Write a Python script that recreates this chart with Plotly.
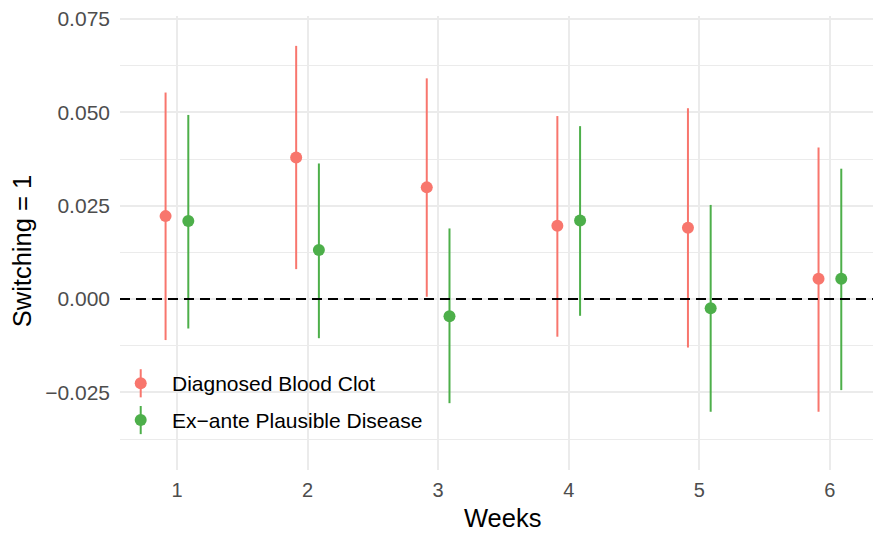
import plotly.graph_objects as go

weeks = [1, 2, 3, 4, 5, 6]
groups = ["Diagnosed Blood Clot", "Ex\u2212ante Plausible Disease"]
colors = ["#F8766D", "#4DAF4A"]

clot_est = [0.0222, 0.0379, 0.0299, 0.0196, 0.0191, 0.0054]
clot_lo = [-0.0110, 0.0080, 0.0006, -0.0101, -0.0130, -0.0302]
clot_hi = [0.0553, 0.0678, 0.0591, 0.0490, 0.0511, 0.0406]

dis_est = [0.0209, 0.0131, -0.0046, 0.0210, -0.0025, 0.0054]
dis_lo = [-0.0079, -0.0105, -0.0279, -0.0045, -0.0302, -0.0244]
dis_hi = [0.0493, 0.0363, 0.0189, 0.0463, 0.0252, 0.0349]

y_ticks = [-0.025, 0.0, 0.025, 0.05, 0.075]
y_tick_labels = ["\u22120.025", "0.000", "0.025", "0.050", "0.075"]

x_title = "Weeks"
y_title = "Switching = 1"

dodge = 0.087
FONT = "Liberation Sans, Arial, sans-serif"

fig = go.Figure()
series = [(clot_est, clot_lo, clot_hi), (dis_est, dis_lo, dis_hi)]
for i, (est, lo, hi) in enumerate(series):
    off = -dodge if i == 0 else dodge
    xs = [w + off for w in weeks]
    fig.add_trace(go.Scatter(
        x=xs, y=est, mode="markers", name=groups[i], showlegend=False,
        marker=dict(color=colors[i], size=12, line=dict(width=0)),
        error_y=dict(type="data", symmetric=False,
                     array=[h - e for h, e in zip(hi, est)],
                     arrayminus=[e - l for e, l in zip(est, lo)],
                     color=colors[i], thickness=2, width=0),
    ))

# zero reference line
fig.add_shape(type="line", xref="paper", yref="y", x0=0, x1=1, y0=0, y1=0,
              line=dict(color="black", width=2, dash="10px,6px"), layer="above")

# legend background (inside panel, semi-transparent white)
fig.add_shape(type="rect", xref="x domain", yref="y domain", x0=0, x1=0.425,
              y0=0.04, y1=0.258, fillcolor="rgba(255,255,255,0.6)",
              line=dict(width=0), layer="below")

# custom legend glyphs on an overlay axis
leg_y = [0.191, 0.110]
for i in range(2):
    fig.add_trace(go.Scatter(
        x=[0.0275], y=[leg_y[i]], xaxis="x2", yaxis="y2", mode="markers",
        showlegend=False, hoverinfo="skip",
        marker=dict(color=colors[i], size=12),
        error_y=dict(type="constant", value=0.031, color=colors[i],
                     thickness=2, width=0),
    ))
    fig.add_annotation(x=0.067, y=leg_y[i], xref="paper", yref="paper",
                       text=groups[i], showarrow=False, xanchor="left",
                       yanchor="middle",
                       font=dict(family=FONT, size=21, color="black"))

# axis titles (placed as in the reference)
fig.add_annotation(x=0.5086, y=-0.105, xref="paper", yref="paper",
                   text=x_title, showarrow=False, xanchor="center",
                   yanchor="middle",
                   font=dict(family=FONT, size=25.5, color="black"))
fig.add_annotation(x=-0.13, y=0.482, xref="paper", yref="paper",
                   text=y_title, showarrow=False, textangle=-90,
                   xanchor="center", yanchor="middle",
                   font=dict(family=FONT, size=25.5, color="black"))

fig.update_layout(
    width=878, height=533,
    margin=dict(l=120, r=5, t=16, b=63, autoexpand=False),
    paper_bgcolor="white", plot_bgcolor="white",
    font=dict(family=FONT, color="#4D4D4D"),
    showlegend=False,
    xaxis=dict(range=[0.564, 6.33], tickvals=weeks,
               ticktext=[str(w) for w in weeks], automargin=False,
               showgrid=True, gridcolor="#EBEBEB", gridwidth=1.6,
               zeroline=False, showline=False, ticks="",
               ticklabelstandoff=6,
               tickfont=dict(size=20, color="#4D4D4D")),
    yaxis=dict(range=[-0.0458, 0.0758], tickvals=y_ticks,
               ticktext=y_tick_labels, automargin=False,
               showgrid=True, gridcolor="#EBEBEB", gridwidth=1.6,
               minor=dict(tickvals=[-0.0375, -0.0125, 0.0125, 0.0375, 0.0625],
                          showgrid=True, gridcolor="#EBEBEB", gridwidth=1),
               zeroline=False, showline=False, ticks="",
               ticklabelstandoff=9,
               tickfont=dict(size=21, color="#4D4D4D")),
    xaxis2=dict(overlaying="x", range=[0, 1], visible=False),
    yaxis2=dict(overlaying="y", range=[0, 1], visible=False),
)

fig.write_html("out.html", config={"displayModeBar": False},
               post_script="document.body.style.margin='0';document.body.style.overflow='hidden';")
